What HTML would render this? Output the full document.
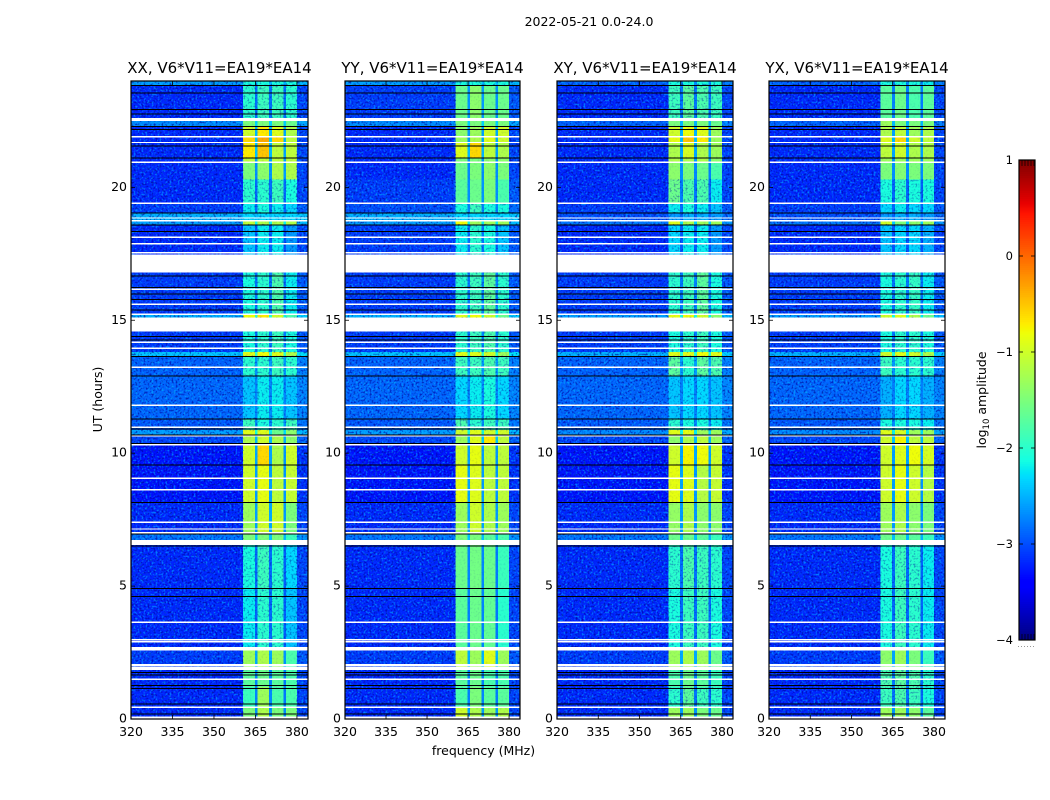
<!DOCTYPE html>
<html lang="en">
<head>
<meta charset="utf-8">
<title>2022-05-21 spectrogram</title>
<style>
html,body{margin:0;padding:0;background:#fff;}
svg{display:block;}
text{font-family:"DejaVu Sans","Liberation Sans",sans-serif;fill:#000;}
</style>
</head>
<body>
<svg id="chart" xmlns="http://www.w3.org/2000/svg" width="1050" height="800" viewBox="0 0 1050 800">
<defs>
<filter id="speckle-light" x="0" y="0" width="1" height="1" color-interpolation-filters="sRGB">
<feTurbulence type="fractalNoise" baseFrequency="0.5" numOctaves="2" seed="4"/>
<feColorMatrix type="matrix" values="0 0 0 0 0  0 0 0 0 0.72  0 0 0 0 1  4.5 0 0 0 -2.3"/>
</filter>
<filter id="speckle-dark" x="0" y="0" width="1" height="1" color-interpolation-filters="sRGB">
<feTurbulence type="fractalNoise" baseFrequency="0.5" numOctaves="2" seed="11"/>
<feColorMatrix type="matrix" values="0 0 0 0 0  0 0 0 0 0  0 0 0 0 0.6  0 4.5 0 0 -2.3"/>
</filter>
</defs>
<text x="589" y="26" text-anchor="middle" font-size="12.5">2022-05-21 0.0-24.0</text>
<text transform="translate(102,399.5) rotate(-90)" text-anchor="middle" font-size="12.5">UT (hours)</text>
<text x="483.5" y="755" text-anchor="middle" font-size="12.5">frequency (MHz)</text>
<text transform="translate(986,400) rotate(-90)" text-anchor="middle" font-size="12.5">log<tspan font-size="8.5" dy="3">10</tspan><tspan dy="-3"> amplitude</tspan></text>
<g id="panels"></g>
<g id="colorbar"></g>
</svg>
<script>
// Data: time-row boundaries (UT hours), frequency bin boundaries (MHz)
const utEdges = [24,23.85,22.6,22.3,21.9,21.69,21.13,20.94,20.3,19.4,19.06,18.74,18.61,17.47,15.22,15.11,13.8,13.66,12.93,11.31,10.87,10.71,10.31,9.58,8.17,6.95,6.55,4.9,2.7,1.84,1.2,0.44,0];
const freqEdges = [320,360.5,364.8,365.8,369.9,370.9,375.1,376,380,384];
// Each row: [background, band1, band2, band3, band4] in log10 amplitude
const seriesXX = [[-2.6,-2.1,-2.1,-2.1,-2.1],[-3.2,-2.0,-1.9,-1.9,-2.0],[-2.7,-1.5,-1.5,-1.5,-1.6],[-3.2,-1.0,-0.7,-0.9,-1.2],[-3.2,-0.6,-0.35,-0.6,-1.1],[-3.2,-0.7,-0.5,-1.1,-1.1],[-3.2,-1.1,-1.1,-1.1,-1.1],[-3.2,-1.5,-1.4,-1.2,-1.2],[-3.2,-2.0,-2.0,-1.9,-2.1],[-3.1,-2.2,-2.1,-2.2,-2.3],[-2.5,-2.3,-2.3,-2.3,-2.3],[-2.6,-1.1,-1.2,-1.2,-1.2],[-3.2,-2.4,-2.2,-2.2,-2.6],[-3.1,-2.1,-2.0,-1.8,-2.2],[-2.5,-0.8,-0.7,-1.0,-1.8],[-3.1,-2.1,-2.0,-1.9,-2.1],[-2.4,-0.9,-0.8,-0.9,-1.2],[-2.9,-2.0,-2.0,-1.9,-2.0],[-2.88,-2.4,-2.2,-2.2,-2.4],[-2.95,-1.9,-2.1,-2.0,-1.9],[-2.6,-0.9,-0.9,-1.6,-1.4],[-3.05,-1.2,-1.0,-1.2,-1.4],[-3.3,-1.0,-0.6,-1.2,-1.0],[-3.3,-1.0,-0.85,-1.1,-1.05],[-3.2,-1.3,-1.0,-1.0,-1.5],[-2.8,-1.5,-1.5,-1.5,-1.9],[-3.2,-2.1,-1.9,-2.0,-2.3],[-3.2,-2.2,-2.0,-2.0,-2.4],[-3.1,-1.3,-1.2,-1.3,-1.8],[-3.2,-1.7,-1.6,-1.7,-1.8],[-3.2,-1.9,-1.3,-1.8,-1.8],[-3.2,-1.5,-1.2,-1.5,-1.5]];
const seriesYY = [[-2.6,-2.1,-2.1,-2.1,-2.1],[-3.1,-1.6,-1.4,-1.6,-1.6],[-2.7,-1.5,-1.5,-1.5,-1.5],[-3.2,-1.4,-1.3,-1.0,-1.0],[-3.2,-1.3,-1.2,-0.9,-1.0],[-3.2,-0.9,-0.6,-1.1,-1.2],[-3.2,-1.5,-1.5,-1.4,-1.4],[-3.2,-1.6,-1.5,-1.4,-1.5],[-3.1,-1.7,-1.6,-1.5,-1.8],[-3.0,-2.1,-1.9,-2.1,-2.1],[-2.5,-2.3,-2.3,-2.3,-2.3],[-2.6,-0.8,-1.3,-1.3,-1.3],[-3.1,-2.2,-2.0,-2.1,-2.4],[-3.1,-2.0,-1.9,-1.7,-2.0],[-2.5,-0.9,-0.8,-1.0,-1.6],[-3.1,-2.0,-1.9,-1.8,-2.0],[-2.4,-0.9,-0.9,-1.0,-1.3],[-2.9,-1.9,-1.9,-1.8,-1.9],[-2.88,-2.3,-2.2,-2.1,-2.3],[-2.95,-1.8,-2.0,-1.9,-1.9],[-2.6,-1.0,-0.9,-1.0,-1.0],[-3.05,-1.3,-0.9,-0.7,-1.1],[-3.3,-1.0,-0.85,-1.1,-1.1],[-3.3,-0.85,-0.9,-1.1,-1.1],[-3.2,-1.3,-1.0,-1.2,-1.3],[-2.8,-1.5,-1.5,-1.7,-1.8],[-3.2,-1.6,-1.55,-1.6,-1.9],[-3.2,-1.7,-1.6,-1.65,-2.0],[-3.1,-1.1,-1.3,-0.9,-1.3],[-3.2,-1.7,-1.6,-1.8,-1.8],[-3.2,-1.8,-1.5,-1.7,-1.7],[-3.2,-1.0,-1.2,-1.3,-1.2]];
const seriesXY = [[-2.9,-2.1,-2.1,-2.1,-2.1],[-3.2,-1.9,-1.7,-1.8,-1.9],[-2.9,-1.5,-1.5,-1.5,-1.6],[-3.2,-1.0,-0.8,-0.9,-1.3],[-3.2,-0.85,-0.5,-0.7,-1.3],[-3.2,-1.2,-0.95,-1.2,-1.3],[-3.2,-1.2,-1.2,-1.2,-1.4],[-3.2,-1.4,-1.5,-1.6,-1.8],[-3.2,-1.6,-1.8,-1.8,-2.2],[-3.1,-2.2,-2.1,-2.2,-2.4],[-3.0,-2.6,-2.5,-2.5,-2.6],[-2.8,-0.9,-1.2,-1.3,-1.3],[-3.2,-2.3,-2.2,-2.2,-2.6],[-3.1,-2.0,-1.9,-1.7,-2.1],[-2.6,-0.85,-0.8,-1.0,-1.4],[-3.1,-2.1,-2.0,-1.9,-2.1],[-2.5,-0.9,-0.9,-0.8,-0.9],[-2.9,-1.7,-2.0,-1.7,-1.8],[-2.88,-2.4,-2.3,-2.3,-2.4],[-2.95,-2.0,-2.1,-2.1,-2.2],[-2.7,-0.9,-0.85,-1.3,-1.3],[-3.05,-1.4,-1.2,-1.1,-1.3],[-3.3,-1.0,-0.75,-0.8,-1.0],[-3.3,-0.85,-0.9,-1.15,-1.05],[-3.2,-1.35,-1.2,-1.4,-1.4],[-2.8,-1.6,-1.6,-1.7,-1.9],[-3.2,-2.0,-1.8,-1.9,-2.0],[-3.2,-2.1,-1.9,-1.9,-2.1],[-3.1,-1.3,-1.2,-1.3,-1.6],[-3.2,-1.8,-1.6,-1.7,-1.9],[-3.2,-2.0,-1.7,-1.9,-2.0],[-3.2,-1.3,-1.3,-1.5,-1.6]];
const seriesYX = [[-2.9,-2.1,-2.1,-2.1,-2.2],[-3.2,-1.7,-1.6,-1.8,-1.7],[-2.9,-1.3,-1.5,-1.5,-1.5],[-3.2,-1.2,-1.1,-1.3,-1.2],[-3.2,-0.9,-0.6,-1.0,-1.1],[-3.2,-1.1,-1.0,-1.2,-1.2],[-3.2,-1.3,-1.3,-1.3,-1.3],[-3.2,-1.5,-1.45,-1.5,-1.5],[-3.2,-2.1,-2.0,-2.1,-2.1],[-3.1,-2.3,-2.2,-2.3,-2.3],[-3.0,-2.6,-2.5,-2.5,-2.6],[-2.8,-1.0,-1.5,-1.4,-1.3],[-3.2,-2.4,-2.3,-2.3,-2.5],[-3.1,-2.1,-2.0,-1.95,-2.2],[-2.6,-1.0,-0.9,-1.2,-1.6],[-3.1,-2.1,-2.0,-2.0,-2.1],[-2.5,-1.0,-0.9,-1.0,-1.2],[-2.9,-1.9,-2.0,-2.0,-2.0],[-2.88,-2.5,-2.3,-2.3,-2.5],[-2.95,-2.1,-2.1,-2.1,-2.2],[-2.7,-0.9,-0.95,-1.3,-1.3],[-3.05,-1.0,-0.75,-1.1,-1.1],[-3.3,-1.0,-0.9,-0.8,-0.95],[-3.3,-1.0,-0.85,-1.0,-1.15],[-3.2,-1.3,-1.2,-1.4,-1.5],[-2.8,-1.6,-1.6,-1.7,-1.9],[-3.2,-2.1,-1.9,-2.0,-2.2],[-3.2,-2.1,-1.9,-2.0,-2.2],[-3.1,-1.4,-1.3,-1.5,-1.9],[-3.2,-1.8,-1.7,-1.8,-2.0],[-3.2,-1.9,-1.8,-1.9,-2.1],[-3.2,-1.3,-1.3,-1.4,-1.7]];
// Flagged data: blanked UT ranges [start, end], and single dropped integrations
const whiteFlags = [[22.6,22.49],[21.93,21.88],[21.71,21.66],[20.97,20.92],[19.43,19.38],[18.87,18.82],[18.77,18.72],[18.15,18.1],[17.91,17.85],[17.57,17.52],[17.47,16.8],[16.19,16.14],[15.63,15.58],[15.25,15.2],[15.11,14.57],[14.2,14.15],[13.97,13.92],[13.26,13.21],[11.83,11.78],[11.0,10.95],[10.68,10.63],[10.34,10.29],[9.08,9.03],[8.66,8.59],[7.43,7.38],[7.17,7.12],[7.03,6.98],[6.73,6.55],[3.67,3.62],[3.01,2.96],[2.93,2.88],[2.71,2.58],[2.06,2.0],[1.97,1.84],[1.52,1.47],[0.47,0.42],[0.09,0]];
const blackFlags = [23.85,23.56,22.95,22.78,22.3,22.19,21.57,21.13,19.06,18.61,18.36,16.68,16.25,16.0,15.79,15.4,14.41,14.28,13.66,12.93,11.31,10.92,10.71,10.39,9.58,8.17,6.97,6.53,4.92,4.63,1.76,1.67,1.27,1.17,0.59,0.2];
const panelTitles = ["XX, V6*V11=EA19*EA14","YY, V6*V11=EA19*EA14","XY, V6*V11=EA19*EA14","YX, V6*V11=EA19*EA14"];
const panelSeries = [seriesXX,seriesYY,seriesXY,seriesYX];
const xTickLabels = [320,335,350,365,380];
const yTickLabels = [0,5,10,15,20];
const colorbarTicks = [1,0,-1,-2,-3,-4];

const NS = "http://www.w3.org/2000/svg";
const panelBoxes = [[131,308],[345,520],[557,733],[769,945]];
const plotTop = 81, plotBottom = 719;
const cbLeft = 1019, cbRight = 1035, cbTop = 160, cbBottom = 640;

function yScale(ut){ return plotBottom - (ut/24)*(plotBottom-plotTop); }
function xScale(mhz,box){ return box[0] + (mhz-320)/64*(box[1]-box[0]); }
function cbScale(v){ return cbBottom - (v+4)/5*(cbBottom-cbTop); }

function lerpStops(t,stops){
  for(let i=1;i<stops.length;i++){
    if(t<=stops[i][0]){
      const a=stops[i-1], b=stops[i];
      return a[1]+(b[1]-a[1])*(t-a[0])/(b[0]-a[0]);
    }
  }
  return stops[stops.length-1][1];
}
const jetR=[[0,0],[0.35,0],[0.66,1],[0.89,1],[1,0.5]];
const jetG=[[0,0],[0.125,0],[0.375,1],[0.64,1],[0.91,0],[1,0]];
const jetB=[[0,0.5],[0.11,1],[0.34,1],[0.65,0],[1,0]];
function colorOf(v){
  const t=Math.max(0,Math.min(1,(v+4)/5));
  return "rgb("+Math.round(255*lerpStops(t,jetR))+","+Math.round(255*lerpStops(t,jetG))+","+Math.round(255*lerpStops(t,jetB))+")";
}
function make(tag,attrs,parent){
  const el=document.createElementNS(NS,tag);
  for(const k in attrs){ el.setAttribute(k,attrs[k]); }
  parent.appendChild(el);
  return el;
}
// Value in frequency bin c given a row [bg,b1,b2,b3,b4]
function binValue(row,c){
  const bg=row[0];
  if(c===0) return bg;
  if(c===8) return bg+0.15;
  if(c%2===1) return row[(c+1)/2];
  const mean=(row[c/2]+row[c/2+1])/2;
  return bg+0.3*(mean-bg);
}

const panelsG=document.getElementById("panels");
panelTitles.forEach(function(title,p){
  const box=panelBoxes[p], rows=panelSeries[p];
  const g=make("g",{},panelsG);
  
  

  const heat=make("g",{"shape-rendering":"crispEdges"},g);
  
  
  rows.forEach(function(row,r){
    const y0=yScale(utEdges[r]), y1=yScale(utEdges[r+1]);
    for(let c=0;c<freqEdges.length-1;c++){
      const x0=xScale(freqEdges[c],box), x1=xScale(freqEdges[c+1],box);
      const cell=make("rect",{x:x0,y:y0,width:x1-x0,height:y1-y0,fill:colorOf(binValue(row,c))},heat);
      
      
    }
  });

  // Speckle texture: full strength on the background, lighter over bright bands
  const bandX0=xScale(freqEdges[1],box), bandX1=xScale(freqEdges[8],box);
  [[box[0],bandX0],[bandX1,box[1]]].forEach(function(span){
    const nl=make("rect",{x:span[0],y:plotTop,width:span[1]-span[0],height:plotBottom-plotTop,filter:"url(#speckle-light)",opacity:"0.6"},g);
    
    
    const nd=make("rect",{x:span[0],y:plotTop,width:span[1]-span[0],height:plotBottom-plotTop,filter:"url(#speckle-dark)",opacity:"0.65"},g);
    
    
  });
  rows.forEach(function(row,r){
    const y0=yScale(utEdges[r]), y1=yScale(utEdges[r+1]);
    const mean=(row[1]+row[2]+row[3]+row[4])/4;
    const nb=make("rect",{x:bandX0,y:y0,width:bandX1-bandX0,height:y1-y0,filter:"url(#speckle-dark)",opacity:mean<-1.75?"0.4":"0.08"},g);
    
    
  });

  const flags=make("g",{"shape-rendering":"crispEdges"},g);
  
  
  whiteFlags.forEach(function(f){
    const w=make("rect",{x:box[0],y:yScale(f[0]),width:box[1]-box[0],height:Math.max(1,yScale(f[1])-yScale(f[0])),fill:"#fff"},flags);
    
    
  });
  blackFlags.forEach(function(u){
    const b=make("rect",{x:box[0],y:yScale(u),width:box[1]-box[0],height:1,fill:"#000"},flags);
    
    
  });

  const frame=make("rect",{x:box[0],y:plotTop,width:box[1]-box[0],height:plotBottom-plotTop,fill:"none",stroke:"#000","stroke-width":"1.2"},g);
  
  

  xTickLabels.forEach(function(v){
    const x=xScale(v,box);
    const t1=make("line",{x1:x,x2:x,y1:plotBottom,y2:plotBottom-4,stroke:"#000","stroke-width":"0.8"},g);
    
    
    const t2=make("line",{x1:x,x2:x,y1:plotTop,y2:plotTop+4,stroke:"#000","stroke-width":"0.8"},g);
    
    
    const lab=make("text",{x:x,y:736,"text-anchor":"middle","font-size":"12.5"},g);
    lab.textContent=String(v);
    
    
  });
  yTickLabels.forEach(function(v){
    const y=yScale(v);
    const t1=make("line",{x1:box[0],x2:box[0]+4,y1:y,y2:y,stroke:"#000","stroke-width":"0.8"},g);
    
    
    const t2=make("line",{x1:box[1],x2:box[1]-4,y1:y,y2:y,stroke:"#000","stroke-width":"0.8"},g);
    
    
    const lab=make("text",{x:box[0]-4,y:y+3.5,"text-anchor":"end","font-size":"12.5"},g);
    lab.textContent=String(v);
    
    
  });
  const tt=make("text",{x:(box[0]+box[1])/2,y:73,"text-anchor":"middle","font-size":"15"},g);
  tt.textContent=title;
  
  
});

// Colorbar
const cb=document.getElementById("colorbar");
const cbBins=make("g",{"shape-rendering":"crispEdges"},cb);
for(let v=-4;v<1;v+=0.02){
  const seg=make("rect",{x:cbLeft,y:cbScale(v+0.02),width:cbRight-cbLeft,height:cbScale(v)-cbScale(v+0.02)+0.5,fill:colorOf(v+0.01)},cbBins);
  
  
}
const cbFrame=make("rect",{x:cbLeft,y:cbTop,width:cbRight-cbLeft,height:cbBottom-cbTop,fill:"none",stroke:"#000","stroke-width":"1.2"},cb);


colorbarTicks.forEach(function(v){
  const y=cbScale(v);
  const a=make("line",{x1:cbLeft,x2:cbLeft+4,y1:y,y2:y,stroke:"#000","stroke-width":"0.8"},cb);
  
  
  const b=make("line",{x1:cbRight,x2:cbRight-4,y1:y,y2:y,stroke:"#000","stroke-width":"0.8"},cb);
  
  
  const lab=make("text",{x:1013,y:y+4,"text-anchor":"end","font-size":"11.5"},cb);
  lab.textContent=(v<0?"\u2212":"")+Math.abs(v);
  
  
});
[1022,1025,1028,1031,1034].forEach(function(x){
  const m=make("line",{x1:x,x2:x,y1:cbTop,y2:cbTop+6,stroke:"#000","stroke-width":"0.7"},cb);
  
  
  const n=make("line",{x1:x,x2:x,y1:cbBottom,y2:cbBottom-6,stroke:"#000","stroke-width":"0.7"},cb);
  
  
});
[1018,1021,1024,1027,1030,1033].forEach(function(x){
  const d=make("rect",{x:x,y:646,width:1,height:1,fill:"#999"},cb);
  
  
});
</script>
</body>
</html>
